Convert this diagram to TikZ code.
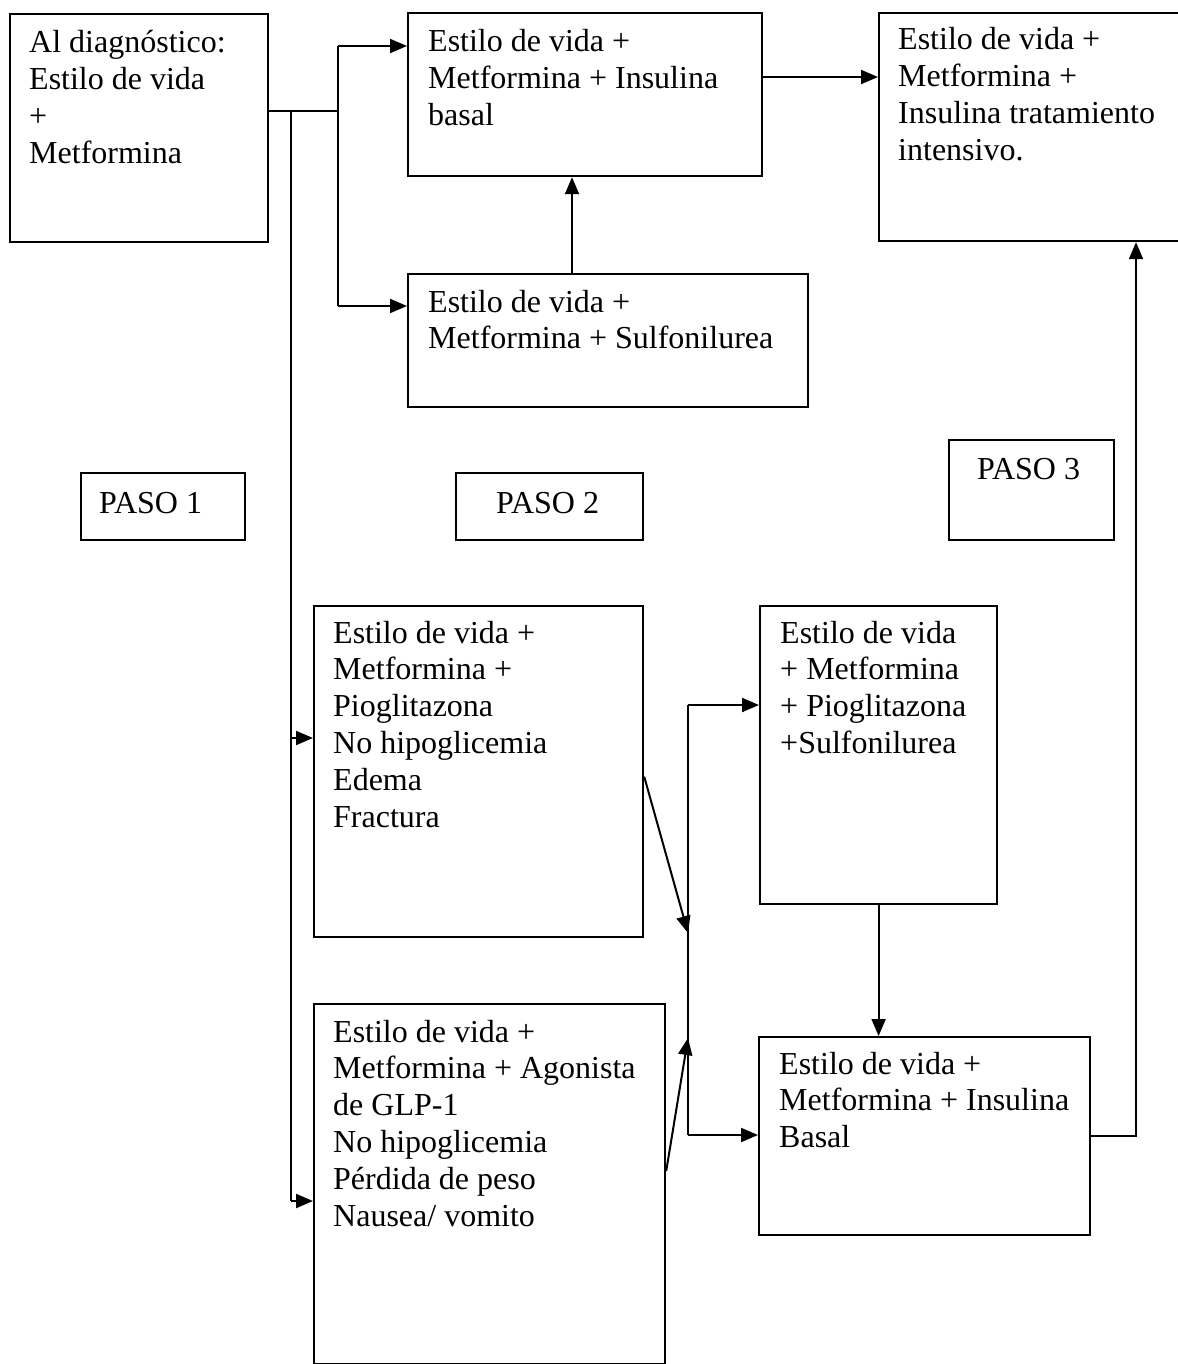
\documentclass[tikz,border=0pt]{standalone}
\usepackage{fontspec}
\setmainfont{Liberation Serif}
\usetikzlibrary{arrows.meta,calc}
\tikzset{
  box/.style={draw, line width=2.2pt, anchor=north west, inner sep=0pt},
  txt/.style={anchor=base west, inner sep=0pt, font=\fontsize{32}{36.8}\selectfont},
  conn/.style={line width=2pt},
  arr/.style={line width=2pt, -{Triangle[length=17pt,width=14pt]}}
}
\newcommand{\lines}[1]{\parbox[t]{500pt}{\raggedright #1}}
\begin{document}
\begin{tikzpicture}[x=1pt,y=-1pt]
\useasboundingbox (0,0) rectangle (1177,1364);
\fill[white] (0,0) rectangle (1177,1364);

% boxes
\node[box, minimum width=258, minimum height=228] (A) at (9,13) {};
\node[box, minimum width=354, minimum height=163] (B) at (407,12) {};
\node[box, minimum width=320, minimum height=228] (C) at (878,12) {};
\node[box, minimum width=400, minimum height=133] (D) at (407,273) {};
\node[box, minimum width=164, minimum height=67] (P1) at (80,472) {};
\node[box, minimum width=187, minimum height=67] (P2) at (455,472) {};
\node[box, minimum width=165, minimum height=100] (P3) at (948,439) {};
\node[box, minimum width=329, minimum height=331] (E) at (313,605) {};
\node[box, minimum width=237, minimum height=298] (F) at (759,605) {};
\node[box, minimum width=351, minimum height=360] (G) at (313,1003) {};
\node[box, minimum width=331, minimum height=198] (H) at (758,1036) {};

% texts
\node[txt] (At) at (29,53) {\lines{Al diagnóstico:\\Estilo de vida\\+\\Metformina}};
\node[txt] (Bt) at (428,52) {\lines{Estilo de vida +\\Metformina + Insulina\\basal}};
\node[txt] (Ct) at (898,50) {\lines{Estilo de vida +\\Metformina +\\Insulina tratamiento\\intensivo.}};
\node[txt] (Dt) at (428,312) {\lines{Estilo de vida +\\Metformina + Sulfonilurea}};
\node[txt] (P1t) at (99,513) {PASO 1};
\node[txt] (P2t) at (496,513) {PASO 2};
\node[txt] (P3t) at (977,479) {PASO 3};
\node[txt] (Et) at (333,643) {\lines{Estilo de vida +\\Metformina +\\Pioglitazona\\No hipoglicemia\\Edema\\Fractura}};
\node[txt] (Ft) at (780,643) {\lines{Estilo de vida\\+ Metformina\\+ Pioglitazona\\+Sulfonilurea}};
\node[txt] (Gt) at (333,1042) {\lines{Estilo de vida +\\Metformina + Agonista\\de GLP-1\\No hipoglicemia\\Pérdida de peso\\Nausea/ vomito}};
\node[txt] (Ht) at (779,1074) {\lines{Estilo de vida +\\Metformina + Insulina\\Basal}};

% junction coordinates
\coordinate (a1) at (291,111);
\coordinate (a2) at (338,111);
\coordinate (b1) at (338,46);
\coordinate (d1) at (338,306);
\coordinate (e1) at (291,738);
\coordinate (g1) at (291,1201);
\coordinate (db) at (572,0);
\coordinate (bc) at (0,77);
\coordinate (v1) at (688,705);
\coordinate (v2) at (688,1135);
\coordinate (j1) at (688,933);
\coordinate (j2) at (688,1038);
\coordinate (hc) at (1136,0);

% connectors
\draw[conn] (A.east |- a1) -- (a2);
\draw[conn] (b1) -- (d1);
\draw[arr] (b1) -- (b1 -| B.west);
\draw[arr] (d1) -- (d1 -| D.west);
\draw[conn] (a1) -- (g1);
\draw[arr] (e1) -- (e1 -| E.west);
\draw[arr] (g1) -- (g1 -| G.west);
\draw[arr] (D.north -| db) -- (B.south -| db);
\draw[arr] (B.east |- bc) -- (C.west |- bc);
\draw[conn] (v1) -- (v2);
\draw[arr] (v1) -- (v1 -| F.west);
\draw[arr] (v2) -- (v2 -| H.west);
\draw[arr] ([yshift=-5pt]E.east) -- (j1);
\draw[arr] ([yshift=13pt]G.east) -- (j2);
\draw[arr] (F.south) -- (F.south |- H.north);
\draw[arr] (H.east) -| (hc |- C.south);
\end{tikzpicture}
\end{document}
